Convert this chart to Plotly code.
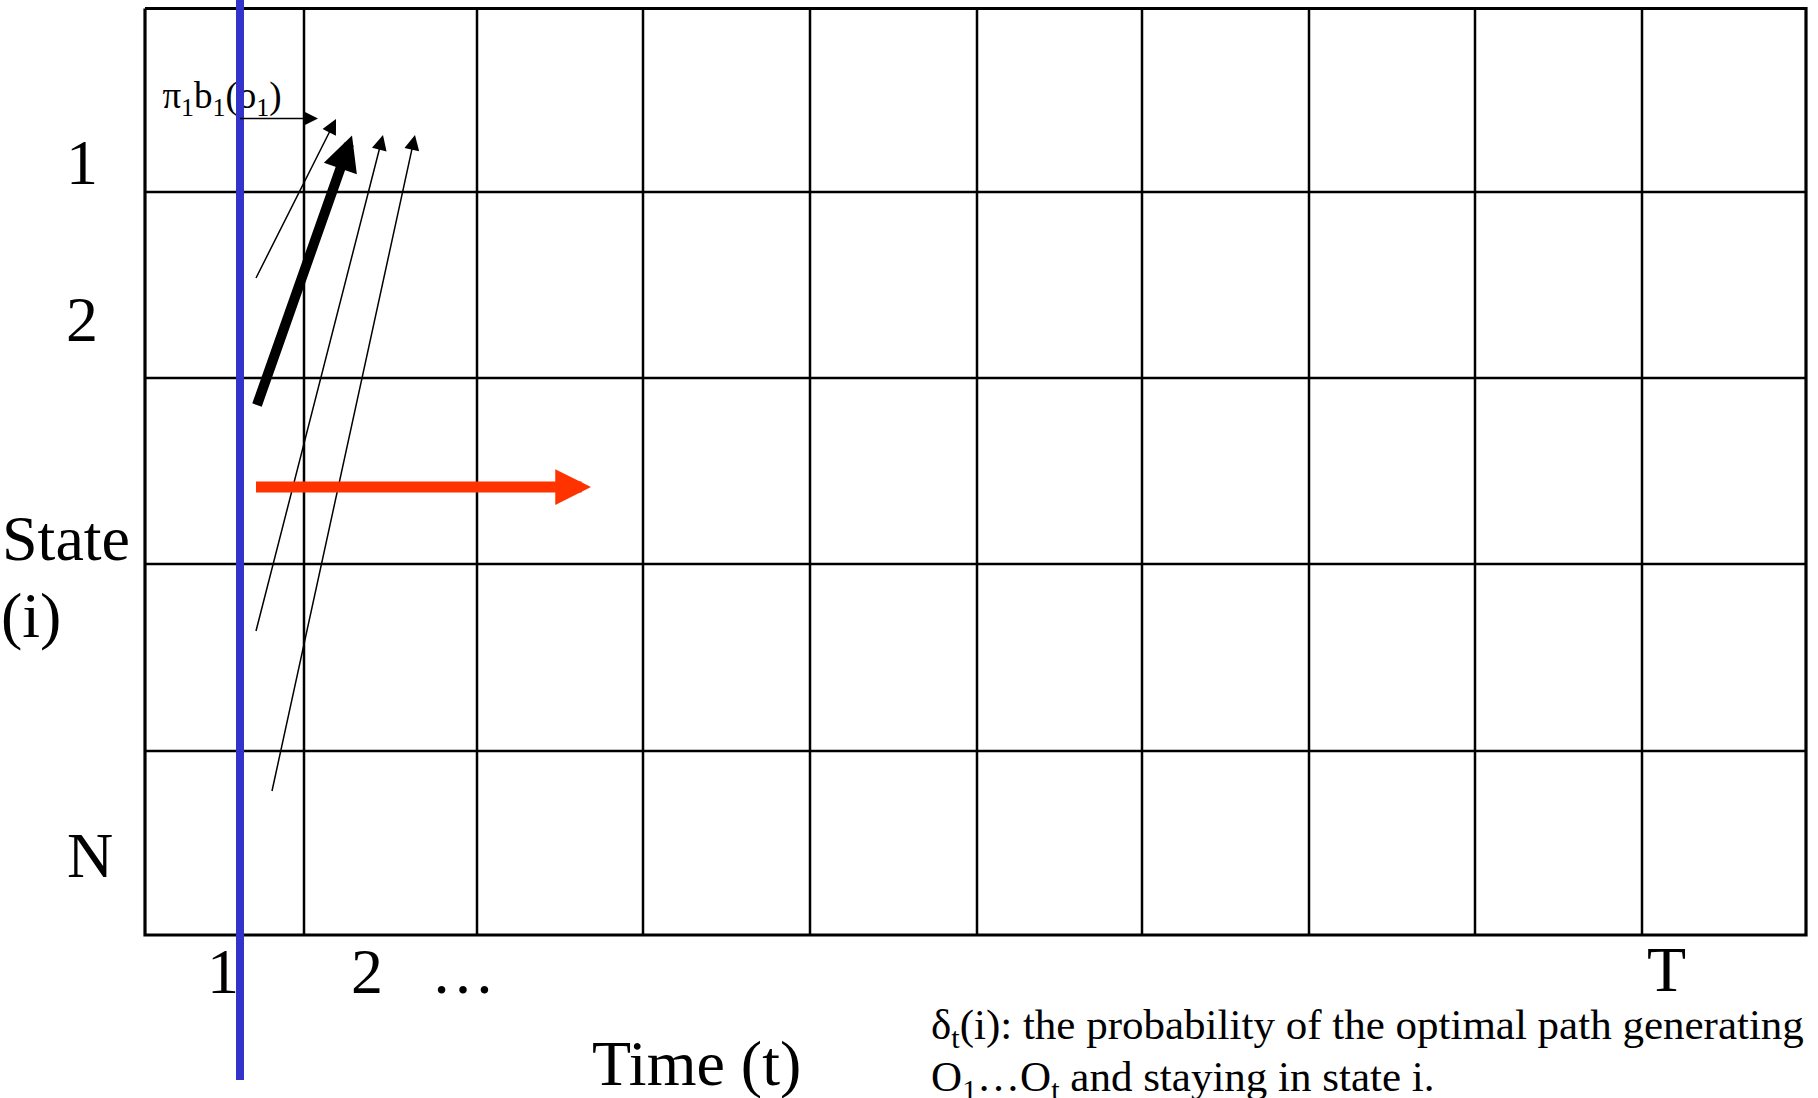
import plotly.graph_objects as go

# ---------------- diagram data (diagram coordinates, y grows downward) ----------------
# trellis grid: time columns x state rows
col_edges = [145, 304, 477, 643, 810, 977, 1142, 1309, 1475, 1642, 1806]
row_edges = [8.5, 192, 378, 564, 751, 935]

# state (row) labels
state_labels = ["1", "2", "N"]
state_label_x = [82, 82, 90]
state_label_y = [162.5, 319.5, 855]

# time (column) labels
time_labels = ["1", "2", "…", "T"]
time_label_x = [223, 366.5, 463, 1666]
time_label_y = [971, 971, 971, 969]

# current-time marker (blue vertical line at t = 1)
blue_line_x = [240, 240]
blue_line_y = [0, 1080]

# thin black arrows: tail -> tip
thin_tail_x = [240, 256, 256, 272]
thin_tail_y = [118.5, 278, 631, 791]
thin_tip_x = [318, 336, 383, 415]
thin_tip_y = [118.5, 119, 135, 135]

# bold black arrow (best predecessor)
bold_tail_xy = [257, 405]
bold_tip_xy = [352, 135.5]

# red arrow (moving forward in time)
red_tail_xy = [256, 487]
red_tip_xy = [591, 487]

init_label = "π<sub>1</sub>b<sub>1</sub>(o<sub>1</sub>)"
init_label_xy = [222, 99]

caption_lines = [
    "δ<sub>t</sub>(i): the probability of the optimal path generating",
    "O<sub>1</sub>…O<sub>t</sub> and staying in state i.",
]
caption_x = 931
caption_top_y = [1000.7, 1052.7]

FONT = "Liberation Serif, Times New Roman, serif"
W, H = 1818, 1098

fig = go.Figure()

# inner grid lines
gx, gy = [], []
for x in col_edges[1:-1]:
    gx += [x, x, None]
    gy += [row_edges[0], row_edges[-1], None]
for y in row_edges[1:-1]:
    gx += [col_edges[0], col_edges[-1], None]
    gy += [y, y, None]
fig.add_trace(go.Scatter(x=gx, y=gy, mode="lines",
                         line=dict(color="black", width=2.5), hoverinfo="skip"))

# outer border
bx = [col_edges[0], col_edges[-1], col_edges[-1], col_edges[0], col_edges[0]]
by = [row_edges[0], row_edges[0], row_edges[-1], row_edges[-1], row_edges[0]]
fig.add_trace(go.Scatter(x=bx, y=by, mode="lines",
                         line=dict(color="black", width=3.2), hoverinfo="skip"))

# initial probability label (under the blue line)
fig.add_trace(go.Scatter(x=[init_label_xy[0]], y=[init_label_xy[1]], mode="text",
                         text=[init_label], textposition="middle center",
                         textfont=dict(family=FONT, size=37, color="black"),
                         hoverinfo="skip"))

# blue current-time line
fig.add_trace(go.Scatter(x=blue_line_x, y=blue_line_y, mode="lines",
                         line=dict(color="#3333CC", width=8), hoverinfo="skip"))

annotations = []


def arrow(tail, tip, width, size, color):
    return dict(x=tip[0], y=tip[1], ax=tail[0], ay=tail[1],
                xref="x", yref="y", axref="x", ayref="y",
                text="", showarrow=True, arrowhead=2, arrowsize=size,
                arrowwidth=width, arrowcolor=color, standoff=0,
                font=dict(size=1), borderpad=0, borderwidth=0)


for tx, ty, hx, hy in zip(thin_tail_x, thin_tail_y, thin_tip_x, thin_tip_y):
    annotations.append(arrow((tx, ty), (hx, hy), 1.5, 2.0, "black"))
annotations.append(arrow(bold_tail_xy, bold_tip_xy, 10, 0.7, "black"))
annotations.append(arrow(red_tail_xy, red_tip_xy, 11, 0.65, "#FF3300"))


def label(txt, x, y, size, xanchor="center", yanchor="middle"):
    return dict(x=x, y=y, xref="x", yref="y", text=txt, showarrow=False,
                xanchor=xanchor, yanchor=yanchor, borderpad=0, borderwidth=0,
                font=dict(family=FONT, size=size, color="black"))


for t, x, y in zip(state_labels, state_label_x, state_label_y):
    annotations.append(label(t, x, y, 64))
for t, x, y in zip(time_labels, time_label_x, time_label_y):
    annotations.append(label(t, x, y, 64))

annotations.append(label("State", 2, 538.4, 64, xanchor="left"))
annotations.append(label("(i)", 1, 615.4, 64, xanchor="left"))
annotations.append(label("Time (t)", 696, 1063, 64))

for line, y in zip(caption_lines, caption_top_y):
    annotations.append(label(line, caption_x, y, 43, xanchor="left", yanchor="top"))

fig.update_layout(
    width=W, height=H,
    margin=dict(l=0, r=0, t=0, b=0),
    paper_bgcolor="white", plot_bgcolor="white",
    showlegend=False,
    xaxis=dict(range=[0, W], visible=False, fixedrange=True),
    yaxis=dict(range=[H, 0], visible=False, fixedrange=True),
    annotations=annotations,
)

fig.write_html(
    "out.html",
    config={"displayModeBar": False},
    post_script="document.body.style.margin='0px';document.body.style.overflow='hidden';",
)
